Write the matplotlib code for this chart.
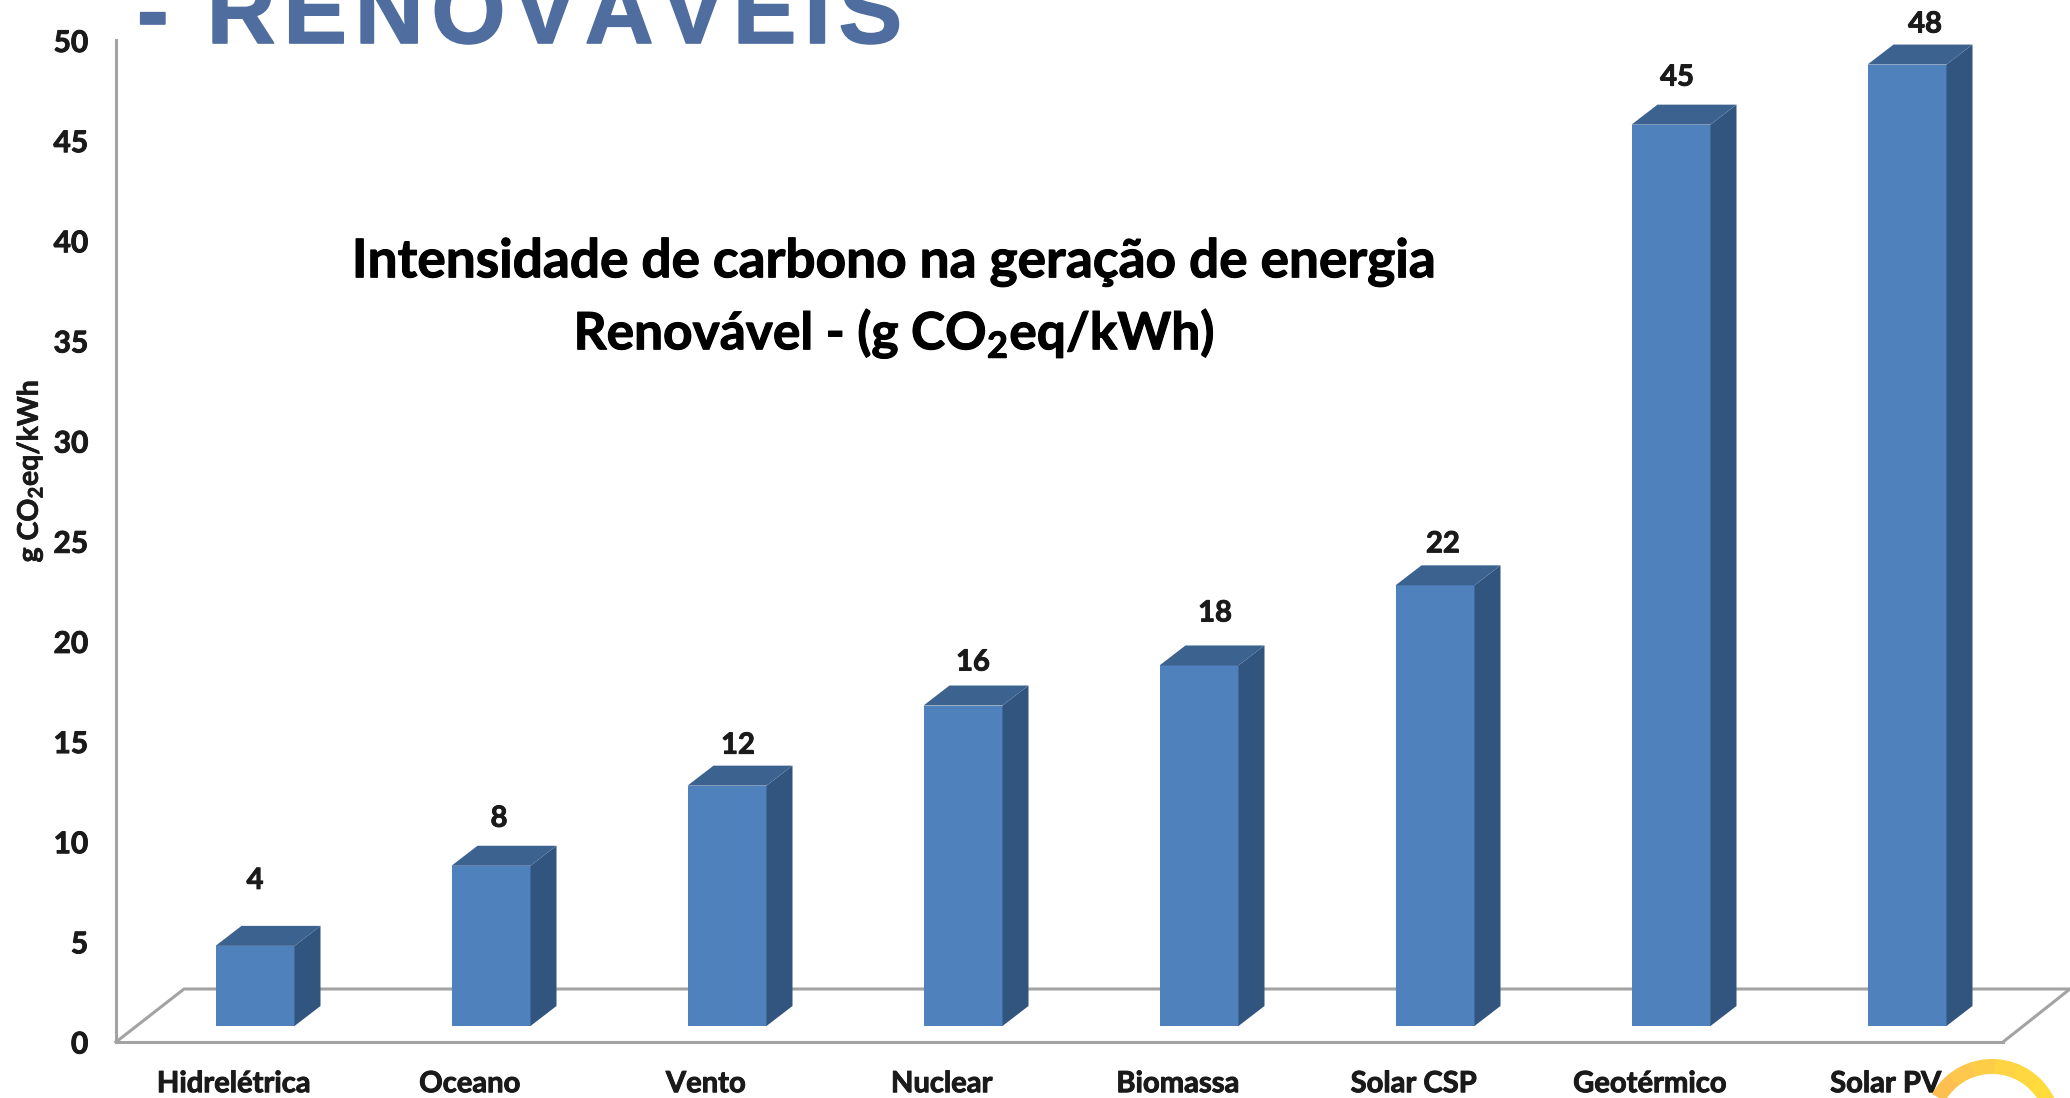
import numpy as np
import matplotlib
matplotlib.use("Agg")
import matplotlib.pyplot as plt
import matplotlib.patheffects as pe
from matplotlib.patches import Wedge
from matplotlib.transforms import IdentityTransform

categories = ['Hidrelétrica', 'Oceano', 'Vento', 'Nuclear', 'Biomassa', 'Solar CSP', 'Geotérmico', 'Solar PV']
values = [4, 8, 12, 16, 18, 22, 45, 48]
yticks = [0, 5, 10, 15, 20, 25, 30, 35, 40, 45, 50]

# hand placed data labels in the original (pixels from bar centre / front top edge)
label_dx = [0, 8, 11, 10, 16, 8, 6, 18]
label_dy = [65, 47, 40, 43, 52, 41, 47, 40]

W, H = 2070, 1098
FRONT = '#4f81bd'
TOP = '#3c6290'
SIDE = '#325580'
GREY = '#a3a3a3'
INK = '#1a1a1a'

plt.rcParams['font.family'] = ['Lato', 'DejaVu Sans']
plt.rcParams['font.weight'] = 'bold'
plt.rcParams['mathtext.fontset'] = 'custom'
plt.rcParams['mathtext.bf'] = 'Lato:bold'
plt.rcParams['mathtext.rm'] = 'Lato:bold'

fig = plt.figure(figsize=[W/100, H/100], dpi=100, facecolor='w')

def heavy(lw, c=INK):
  return [pe.withStroke(linewidth=lw, foreground=c)]

# axes box in picture pixels: left spine 116, floor 1042, top 40
ax = fig.add_axes([116/W, (H-1042)/H, (2003-116)/W, 1002/H])
PITCH = 236.0
PXY = 20.03
ax.set_xlim((116-255)/PITCH, (2003-255)/PITCH)
ax.set_ylim(0, 1002/PXY)

bw = 79/PITCH
ddx = 26/PITCH
ddy = 20/PXY
base = 16/PXY
x = np.arange(len(values))

# floor of the 3d box
floor_x = [(116-255)/PITCH, (184-255)/PITCH, (2070-255)/PITCH, (2003-255)/PITCH]
floor_y = [0, 53/PXY, 53/PXY, 0]
ax.plot(floor_x, floor_y, c=GREY, lw=2.2, clip_on=False, zorder=1, solid_joinstyle='miter')

for i, v in enumerate(values):
  l, r = x[i]-bw/2, x[i]+bw/2
  top = base+v
  ax.fill([l, r, r, l], [base, base, top, top], c=FRONT, lw=0, zorder=3)
  ax.fill([r, r+ddx, r+ddx, r], [base, base+ddy, top+ddy, top], c=SIDE, lw=0, zorder=3)
  ax.fill([l, r, r+ddx, l+ddx], [top, top, top+ddy, top+ddy], c=TOP, lw=0, zorder=3)
  ax.annotate(str(v), (x[i], top), xytext=(label_dx[i]*0.72, label_dy[i]*0.72), textcoords='offset points',
              ha='center', va='center', fontsize=21, color=INK, annotation_clip=False, path_effects=heavy(0.7))

for s in ['top', 'right']:
  ax.spines[s].set_visible(False)
for s in ['left', 'bottom']:
  ax.spines[s].set_color(GREY)
  ax.spines[s].set_linewidth(2.2)

ax.set_yticks(yticks)
ax.set_xticks(x-0.09, categories)
ax.tick_params(axis='y', length=0, pad=20, labelsize=21.5, labelcolor=INK)
ax.tick_params(axis='x', length=0, pad=21, labelsize=21, labelcolor=INK)
for t in ax.get_xticklabels()+ax.get_yticklabels():
  t.set_path_effects(heavy(0.7))
ax.patch.set_alpha(0)

def px(xp, yp):
  return xp/W, (H-yp)/H

fig.text(*px(30, 471), r'g CO$_{\mathbf{2}}$eq/kWh', rotation=90, ha='center', va='center', fontsize=20.5,
         color=INK, path_effects=heavy(0.5))
fig.text(*px(894, 262), 'Intensidade de carbono na geração de energia', ha='center', va='center', fontsize=38.3,
         color='k', path_effects=heavy(0.8, 'k'))
fig.text(*px(894, 334), r'Renovável - (g CO$_{\mathbf{2}}$eq/kWh)', ha='center', va='center', fontsize=37,
         color='k', path_effects=heavy(0.8, 'k'))

# section header, cut by the top edge of the picture
fig.text(*px(137, 43), '-\u2009\u2009R\u200aE\u200aN\u200aO\u200aV\u200aÁ\u200aV\u200aE\u200aI\u200aS', ha='left', va='baseline',
         fontsize=68.5, color='#4f6d9f', family=['Liberation Sans', 'DejaVu Sans'], weight='bold',
         path_effects=heavy(1.2, '#4f6d9f'))

# corner of the logo
arc_c = ['#fdbf50', '#fdc64d', '#fecd48', '#fed344', '#ffd840', '#ffdc3c']
angs = np.linspace(150, 25, len(arc_c)+1)
for a0, a1, c in zip(angs[:-1], angs[1:], arc_c):
  fig.add_artist(Wedge((1992, H-1128), 69, a1-0.5, a0+0.5, width=15, fc=c, ec='none', transform=IdentityTransform()))

fig.savefig('out.png', dpi=100)
